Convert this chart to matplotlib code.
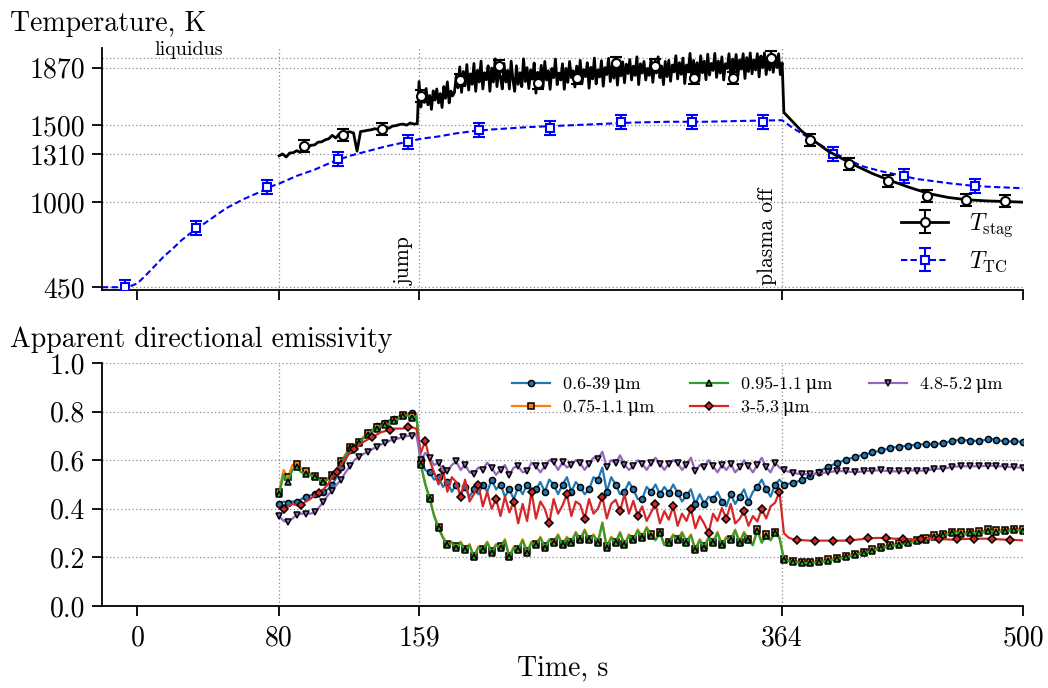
import numpy as np
import matplotlib
matplotlib.use('Agg')
import matplotlib.pyplot as plt
from matplotlib.legend_handler import HandlerTuple

plt.rcParams['font.family'] = ['cmr10', 'DejaVu Serif']
plt.rcParams['mathtext.fontset'] = 'cm'
plt.rcParams['axes.unicode_minus'] = False
plt.rcParams['axes.formatter.use_mathtext'] = True

# ---------------- top panel data ----------------
T_ticks = [450, 1000, 1310, 1500, 1870]
T_liquidus = 1935
x_ticks = [0, 80, 159, 364, 500]
x_events = [80, 159, 364]

# stagnation temperature: pre-jump (t = 80..158, step 2)
Tstag_pre = [1300, 1312, 1292, 1318, 1320, 1333, 1322, 1348, 1350, 1368,
             1370, 1388, 1390, 1403, 1410, 1432, 1415, 1442, 1445, 1452,
             1455, 1448, 1330, 1457, 1460, 1465, 1468, 1475, 1470, 1482,
             1485, 1478, 1492, 1495, 1502, 1505, 1498, 1512, 1505, 1507]
# plateau (t = 159..364, step 1)
Tstag_plat = [1780, 1615, 1705, 1645, 1735, 1630, 1690, 1600, 1720, 1660,
              1732, 1642, 1702, 1612, 1748, 1672, 1778, 1642, 1718, 1688,
              1710, 1815, 1740, 1875, 1710, 1845, 1755, 1890, 1725, 1830,
              1762, 1897, 1717, 1852, 1777, 1912, 1732, 1837, 1792, 1882,
              1717, 1867, 1777, 1927, 1747, 1852, 1807, 1732, 1897, 1777,
              1852, 1732, 1912, 1792, 1717, 1882, 1762, 1837, 1747, 1927,
              1780, 1870, 1735, 1855, 1795, 1900, 1705, 1840, 1780, 1885,
              1745, 1910, 1790, 1850, 1730, 1865, 1805, 1925, 1760, 1835,
              1790, 1895, 1730, 1865, 1775, 1910, 1805, 1850, 1745, 1880,
              1782, 1917, 1767, 1857, 1812, 1902, 1737, 1872, 1797, 1932,
              1765, 1855, 1810, 1915, 1750, 1870, 1825, 1930, 1780, 1885,
              1802, 1937, 1757, 1877, 1817, 1907, 1772, 1892, 1832, 1922,
              1790, 1880, 1820, 1940, 1760, 1895, 1835, 1910, 1790, 1865,
              1820, 1925, 1775, 1895, 1835, 1940, 1805, 1880, 1760, 1910,
              1812, 1917, 1782, 1887, 1842, 1947, 1797, 1902, 1827, 1932,
              1767, 1887, 1842, 1962, 1797, 1917, 1827, 1902, 1782, 1947,
              1837, 1912, 1792, 1957, 1822, 1897, 1852, 1962, 1807, 1912,
              1835, 1940, 1790, 1895, 1865, 1960, 1805, 1925, 1850, 1955,
              1815, 1920, 1860, 1960, 1800, 1935, 1845, 1965, 1830, 1920,
              1855, 1960, 1810, 1945, 1870, 1965, 1825, 1930, 1855, 1960,
              1840, 1945, 1870, 1960, 1825, 1900]
# cooling after plasma off
t_cool = [365, 370, 375, 381, 390, 403, 415, 425, 436, 447, 458, 469, 480, 491, 500]
Tstag_cool = [1580, 1520, 1460, 1405, 1330, 1250, 1185, 1140, 1095, 1055,
              1030, 1015, 1008, 1004, 1000]

# stagnation markers with error bars
t_stag_pts = [94, 116, 138, 160, 182, 204, 226, 248, 270, 292, 314, 336, 358,
              380, 402, 424, 446, 468, 490]
T_stag_pts = [1363, 1434, 1473, 1687, 1790, 1881, 1773, 1805, 1902, 1883, 1801,
              1801, 1935, 1402, 1246, 1136, 1039, 1013, 1006]
T_stag_err = 40

# thermocouple temperature
t_tc = [-20, -10, -5, 0, 5, 10, 15, 20, 25, 30, 35, 40, 45, 50, 55, 60, 65, 70,
        75, 80, 90, 100, 110, 120, 130, 140, 150, 160, 170, 180, 190, 200, 220,
        240, 260, 280, 300, 320, 340, 364, 370, 380, 390, 400, 410, 420, 430,
        440, 450, 460, 470, 480, 490, 500]
T_tc = [450, 450, 452, 475, 530, 590, 650, 700, 755, 800, 840, 880, 920, 960,
        990, 1020, 1045, 1070, 1100, 1120, 1170, 1210, 1260, 1300, 1330, 1360,
        1385, 1410, 1425, 1445, 1460, 1470, 1485, 1495, 1505, 1515, 1520, 1520,
        1525, 1530, 1480, 1410, 1340, 1280, 1230, 1200, 1175, 1150, 1135, 1120,
        1108, 1100, 1095, 1090]
t_tc_pts = [-7, 33, 73, 113, 153, 193, 233, 273, 313, 353, 393, 433, 473]
T_tc_pts = [450, 832, 1098, 1279, 1388, 1467, 1480, 1519, 1519, 1519, 1311, 1169, 1104]
T_tc_err = 45

# ---------------- bottom panel data (t = 80..500, step 2.5) ----------------
blue_pre = [0.42, 0.43, 0.425, 0.43, 0.43, 0.44, 0.45, 0.455, 0.46, 0.465,
            0.47, 0.48, 0.5, 0.53, 0.57, 0.6, 0.64, 0.66, 0.675, 0.69,
            0.71, 0.725, 0.74, 0.75, 0.755, 0.765, 0.77, 0.78, 0.785, 0.79,
            0.795, 0.79]
blue_mid = [0.6, 0.56, 0.55, 0.52, 0.53, 0.49, 0.51, 0.47, 0.5, 0.46,
            0.49, 0.45, 0.48, 0.46, 0.5, 0.47, 0.52, 0.48, 0.5, 0.45,
            0.48, 0.44, 0.49, 0.46, 0.5, 0.47, 0.48, 0.51, 0.47, 0.52,
            0.5, 0.46, 0.5, 0.53, 0.47, 0.51, 0.49, 0.46, 0.48, 0.53,
            0.52, 0.57, 0.47, 0.53, 0.5, 0.46, 0.47, 0.51, 0.48, 0.44,
            0.44, 0.49, 0.47, 0.5, 0.46, 0.49, 0.465, 0.5, 0.465, 0.43,
            0.455, 0.48, 0.42, 0.46, 0.42, 0.45, 0.44, 0.47, 0.43, 0.41,
            0.46, 0.42, 0.45, 0.48, 0.43, 0.47, 0.49, 0.52, 0.48, 0.45,
            0.5, 0.52]
blue_post = [0.5, 0.503, 0.506, 0.512, 0.518, 0.526, 0.534, 0.544, 0.553, 0.564,
             0.574, 0.581, 0.588, 0.595, 0.602, 0.607, 0.612, 0.618, 0.623, 0.627,
             0.632, 0.636, 0.64, 0.645, 0.65, 0.653, 0.656, 0.658, 0.66, 0.662,
             0.664, 0.665, 0.665, 0.666, 0.667, 0.668, 0.67, 0.675, 0.68, 0.682,
             0.682, 0.682, 0.681, 0.68, 0.679, 0.682, 0.686, 0.687, 0.684, 0.68,
             0.677, 0.677, 0.679, 0.677, 0.673]

orange_pre = [0.47, 0.56, 0.53, 0.58, 0.585, 0.565, 0.555, 0.545, 0.535, 0.525,
              0.515, 0.525, 0.54, 0.565, 0.595, 0.625, 0.655, 0.665, 0.675, 0.695,
              0.71, 0.725, 0.735, 0.745, 0.75, 0.755, 0.765, 0.775, 0.785, 0.79,
              0.78, 0.785]
orange_mid = [0.585, 0.505, 0.445, 0.375, 0.325, 0.285, 0.255, 0.265, 0.245, 0.265,
              0.235, 0.255, 0.205, 0.245, 0.235, 0.265, 0.225, 0.255, 0.245, 0.275,
              0.205, 0.245, 0.235, 0.275, 0.225, 0.265, 0.255, 0.285, 0.245, 0.275,
              0.265, 0.295, 0.255, 0.285, 0.265, 0.305, 0.275, 0.315, 0.275, 0.295,
              0.265, 0.345, 0.245, 0.285, 0.265, 0.305, 0.255, 0.295, 0.275, 0.315,
              0.285, 0.325, 0.295, 0.275, 0.305, 0.255, 0.265, 0.295, 0.275, 0.305,
              0.265, 0.295, 0.235, 0.275, 0.245, 0.285, 0.265, 0.305, 0.255, 0.285,
              0.275, 0.315, 0.265, 0.305, 0.275, 0.255, 0.315, 0.265, 0.295, 0.275,
              0.305, 0.285]
orange_post = [0.195, 0.19, 0.186, 0.184, 0.182, 0.182, 0.182, 0.183, 0.185, 0.188,
               0.192, 0.195, 0.198, 0.202, 0.206, 0.211, 0.216, 0.22, 0.224, 0.229,
               0.234, 0.239, 0.243, 0.248, 0.252, 0.255, 0.258, 0.262, 0.265, 0.268,
               0.272, 0.276, 0.279, 0.285, 0.291, 0.294, 0.298, 0.301, 0.305, 0.308,
               0.305, 0.303, 0.306, 0.307, 0.307, 0.309, 0.315, 0.314, 0.311, 0.312,
               0.314, 0.316, 0.318, 0.318, 0.317]

green_pre = [0.46, 0.54, 0.51, 0.56, 0.57, 0.55, 0.545, 0.54, 0.53, 0.52,
             0.51, 0.52, 0.535, 0.56, 0.59, 0.62, 0.65, 0.66, 0.67, 0.69,
             0.705, 0.72, 0.73, 0.74, 0.745, 0.75, 0.76, 0.77, 0.78, 0.785,
             0.775, 0.78]
green_mid = [0.58, 0.5, 0.44, 0.37, 0.32, 0.28, 0.25, 0.26, 0.24, 0.26,
             0.23, 0.25, 0.2, 0.24, 0.23, 0.26, 0.22, 0.25, 0.24, 0.27,
             0.2, 0.24, 0.23, 0.27, 0.22, 0.26, 0.25, 0.28, 0.24, 0.27,
             0.26, 0.29, 0.25, 0.28, 0.26, 0.3, 0.27, 0.31, 0.27, 0.29,
             0.26, 0.34, 0.24, 0.28, 0.26, 0.3, 0.25, 0.29, 0.27, 0.31,
             0.28, 0.32, 0.29, 0.27, 0.3, 0.25, 0.26, 0.29, 0.27, 0.3,
             0.26, 0.29, 0.23, 0.27, 0.24, 0.28, 0.26, 0.3, 0.25, 0.28,
             0.27, 0.31, 0.26, 0.3, 0.27, 0.25, 0.31, 0.26, 0.29, 0.27,
             0.3, 0.28]
green_post = [0.19, 0.185, 0.181, 0.179, 0.177, 0.177, 0.177, 0.178, 0.18, 0.183,
              0.187, 0.19, 0.193, 0.196, 0.2, 0.205, 0.21, 0.214, 0.218, 0.223,
              0.228, 0.233, 0.237, 0.242, 0.246, 0.249, 0.252, 0.256, 0.259, 0.262,
              0.266, 0.27, 0.273, 0.279, 0.285, 0.288, 0.292, 0.295, 0.299, 0.302,
              0.298, 0.296, 0.299, 0.3, 0.3, 0.302, 0.308, 0.307, 0.304, 0.305,
              0.307, 0.309, 0.311, 0.311, 0.31]

red_pre = [0.40, 0.40, 0.41, 0.42, 0.415, 0.415, 0.43, 0.44, 0.455, 0.465,
           0.48, 0.5, 0.53, 0.55, 0.58, 0.61, 0.63, 0.645, 0.66, 0.675,
           0.685, 0.695, 0.705, 0.715, 0.72, 0.725, 0.73, 0.73, 0.73, 0.735,
           0.735, 0.73]
red_mid = [0.63, 0.68, 0.6, 0.55, 0.5, 0.56, 0.47, 0.53, 0.51, 0.45,
           0.52, 0.43, 0.46, 0.5, 0.41, 0.47, 0.4, 0.44, 0.37, 0.45,
           0.385, 0.43, 0.34, 0.42, 0.35, 0.47, 0.36, 0.43, 0.4, 0.34,
           0.44, 0.38, 0.414, 0.46, 0.37, 0.43, 0.417, 0.36, 0.44, 0.38,
           0.4, 0.45, 0.36, 0.42, 0.437, 0.39, 0.46, 0.38, 0.433, 0.37,
           0.41, 0.35, 0.385, 0.42, 0.34, 0.39, 0.355, 0.41, 0.33, 0.38,
           0.35, 0.4, 0.32, 0.37, 0.339, 0.3, 0.38, 0.35, 0.403, 0.36,
           0.42, 0.34, 0.358, 0.39, 0.33, 0.37, 0.348, 0.4, 0.36, 0.41,
           0.425, 0.47]
red_post = [0.3, 0.282, 0.275, 0.272, 0.271, 0.27, 0.269, 0.269, 0.269, 0.269,
            0.269, 0.269, 0.269, 0.269, 0.269, 0.27, 0.272, 0.274, 0.276, 0.278,
            0.279, 0.28, 0.28, 0.279, 0.278, 0.277, 0.277, 0.276, 0.275, 0.274,
            0.273, 0.274, 0.275, 0.276, 0.277, 0.276, 0.275, 0.274, 0.273, 0.274,
            0.275, 0.276, 0.277, 0.277, 0.277, 0.277, 0.277, 0.276, 0.275, 0.274,
            0.273, 0.273, 0.272, 0.271, 0.27]

purple_pre = [0.37, 0.35, 0.345, 0.36, 0.375, 0.38, 0.38, 0.38, 0.385, 0.405,
              0.43, 0.455, 0.475, 0.5, 0.52, 0.55, 0.575, 0.6, 0.615, 0.625,
              0.635, 0.645, 0.655, 0.665, 0.67, 0.68, 0.685, 0.69, 0.695, 0.7,
              0.7, 0.705]
purple_mid = [0.6, 0.63, 0.61, 0.58, 0.59, 0.56, 0.555, 0.58, 0.595, 0.56,
              0.582, 0.55, 0.545, 0.57, 0.561, 0.59, 0.568, 0.54, 0.561, 0.58,
              0.54, 0.57, 0.575, 0.55, 0.554, 0.59, 0.575, 0.55, 0.575, 0.6,
              0.591, 0.56, 0.591, 0.57, 0.582, 0.6, 0.588, 0.56, 0.586, 0.61,
              0.605, 0.635, 0.572, 0.6, 0.588, 0.62, 0.582, 0.56, 0.575, 0.6,
              0.586, 0.56, 0.588, 0.61, 0.586, 0.56, 0.586, 0.6, 0.588, 0.56,
              0.582, 0.61, 0.554, 0.58, 0.57, 0.6, 0.575, 0.55, 0.58, 0.56,
              0.585, 0.55, 0.57, 0.6, 0.575, 0.55, 0.58, 0.61, 0.57, 0.55,
              0.59, 0.57]
purple_post = [0.558, 0.553, 0.548, 0.545, 0.543, 0.542, 0.543, 0.544, 0.546, 0.548,
               0.55, 0.553, 0.556, 0.555, 0.554, 0.552, 0.551, 0.552, 0.554, 0.556,
               0.557, 0.558, 0.558, 0.556, 0.554, 0.554, 0.554, 0.555, 0.557, 0.558,
               0.557, 0.557, 0.557, 0.56, 0.564, 0.565, 0.565, 0.568, 0.572, 0.574,
               0.575, 0.575, 0.575, 0.575, 0.575, 0.576, 0.578, 0.577, 0.575, 0.575,
               0.574, 0.572, 0.571, 0.57, 0.568]

em_labels = ['0.6-39\u2009\u03bcm', '0.75-1.1\u2009\u03bcm', '0.95-1.1\u2009\u03bcm',
             '3-5.3\u2009\u03bcm', '4.8-5.2\u2009\u03bcm']
em_ticks = [0.0, 0.2, 0.4, 0.6, 0.8, 1.0]

# ---------------- figure ----------------
fig = plt.figure(figsize=(10.48, 6.88), dpi=100)
ax1 = fig.add_axes([102 / 1048, 1 - 290 / 688, 921 / 1048, 242 / 688])
ax2 = fig.add_axes([102 / 1048, 1 - 606 / 688, 921 / 1048, 243 / 688])

grid_kw = dict(color='0.55', lw=0.9, ls=(0, (1, 2)), zorder=0.5)
TICK_FS = 20

for ax in (ax1, ax2):
    for s in ('top', 'right'):
        ax.spines[s].set_visible(False)
    for s in ('left', 'bottom'):
        ax.spines[s].set_linewidth(1.3)
    ax.tick_params(direction='out', length=7, width=1.3, labelsize=TICK_FS, pad=5)
    ax.set_xlim(-20, 500)
    ax.set_xticks(x_ticks)
    for xv in x_events:
        ax.axvline(xv, **grid_kw)

# ---- top panel ----
t_pre = np.arange(80, 159, 2)
t_plat = np.arange(159, 365, 1)
t_stag = np.concatenate([t_pre, t_plat, np.array(t_cool)])
T_stag = np.array(Tstag_pre + Tstag_plat + Tstag_cool)

ax1.set_ylim(432, 1997)
ax1.set_yticks(T_ticks)
ax1.set_yticklabels([str(v) for v in T_ticks])
ax1.set_xticklabels([])
for yv in T_ticks:
    ax1.axhline(yv, **grid_kw)
ax1.axhline(T_liquidus, **grid_kw)
ax1.text(29, T_liquidus + 14, 'liquidus', ha='center', va='baseline', fontsize=14.5)

ln_tc, = ax1.plot(t_tc, T_tc, color='blue', lw=1.5, ls=(0, (3, 1.6)), zorder=2)
eb_tc = ax1.errorbar(t_tc_pts, T_tc_pts, yerr=T_tc_err, fmt='s', ms=6, mfc='white',
                     mec='blue', mew=1.5, ecolor='blue', elinewidth=1.5, capsize=4,
                     capthick=1.5, zorder=3)
ln_st, = ax1.plot(t_stag, T_stag, color='black', lw=2.0, zorder=4)
eb_st = ax1.errorbar(t_stag_pts, T_stag_pts, yerr=T_stag_err, fmt='o', ms=6.5,
                     mfc='white', mec='black', mew=1.5, ecolor='black',
                     elinewidth=1.5, capsize=4, capthick=1.5, zorder=5)

ax1.text(156, 462, 'jump', rotation=90, ha='right', va='bottom', fontsize=15.5)
ax1.text(361, 462, 'plasma off', rotation=90, ha='right', va='bottom', fontsize=15.5)

ax1.legend([(ln_st, eb_st), (ln_tc, eb_tc)],
           [r'$T_{\rm stag}$', r'$T_{\rm TC}$'],
           handler_map={tuple: HandlerTuple(ndivide=1)},
           loc='upper left', bbox_to_anchor=(0.8675, 0.325), frameon=False,
           fontsize=17, borderpad=0, borderaxespad=0, handlelength=2.0,
           handletextpad=0.9, labelspacing=0.45)

fig.text(10 / 1048, 1 - 31 / 688, 'Temperature, K', fontsize=20, ha='left', va='baseline')

# ---- bottom panel ----
t_em = np.arange(80, 500.01, 2.5)
em_series = [
    (blue_pre + blue_mid + blue_post, 'tab:blue', 'o', 2),
    (orange_pre + orange_mid + orange_post, 'tab:orange', 's', 2),
    (green_pre + green_mid + green_post, 'tab:green', '^', 2),
    (red_pre + red_mid + red_post, 'tab:red', 'D', (1, 4)),
    (purple_pre + purple_mid + purple_post, 'tab:purple', 'v', 2),
]
for (vals, col, mk, me), lab in zip(em_series, em_labels):
    ax2.plot(t_em, vals, color=col, lw=1.6, marker=mk, ms=4.4 if mk != 'D' else 4.0,
             mfc=col, mec='black', mew=1.1, markevery=me, label=lab, zorder=3)

ax2.set_ylim(0, 1.0)
ax2.set_yticks(em_ticks)
ax2.set_yticklabels([f'{v:.1f}' for v in em_ticks])
for yv in em_ticks:
    ax2.axhline(yv, **grid_kw)
ax2.set_xticklabels([str(v) for v in x_ticks])
ax2.tick_params(axis='x', pad=7)
ax2.set_xlabel('Time, s', fontsize=20, labelpad=2)

ax2.legend(loc='upper left', bbox_to_anchor=(0.445, 0.943), ncol=3, frameon=False,
           fontsize=13, borderpad=0, borderaxespad=0, handlelength=2.1,
           handletextpad=0.72, columnspacing=2.0, labelspacing=0.35)

fig.text(10 / 1048, 1 - 347 / 688, 'Apparent directional emissivity', fontsize=20,
         ha='left', va='baseline')

fig.savefig('out.png', dpi=100)
